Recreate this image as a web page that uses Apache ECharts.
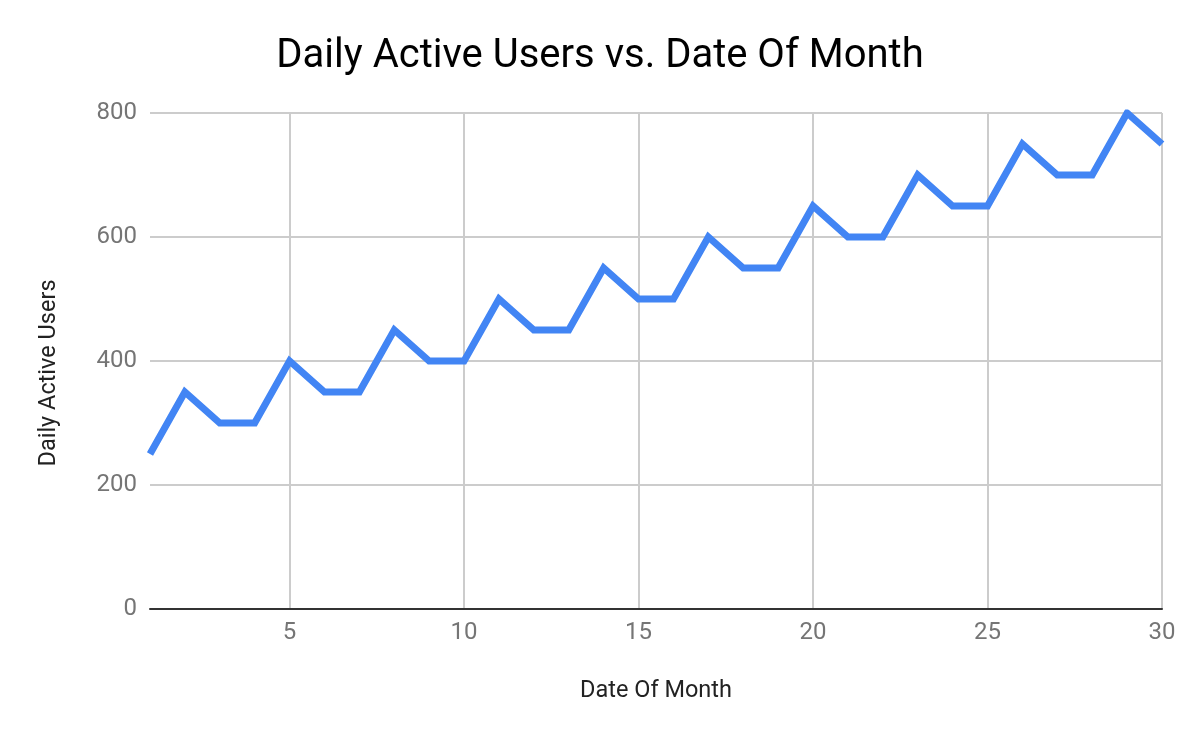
<!DOCTYPE html>
<html>
<head>
<meta charset="utf-8">
<script src="https://cdn.jsdelivr.net/npm/echarts@6/dist/echarts.min.js"></script>
<style>html,body{margin:0;padding:0;background:#fff}#c{width:1200px;height:742px}</style>
</head>
<body>
<div id="c"></div>
<script>
const days = [1,2,3,4,5,6,7,8,9,10,11,12,13,14,15,16,17,18,19,20,21,22,23,24,25,26,27,28,29,30];
const users = [250,350,300,300,400,350,350,450,400,400,500,450,450,550,500,500,600,550,550,650,600,600,700,650,650,750,700,700,800,750];
const xTicks = [5,10,15,20,25,30];
const yTicks = [0,200,400,600,800];

const chart = echarts.init(document.getElementById('c'));
chart.setOption({
  animation: false,
  title: {
    text: 'Daily Active Users vs. Date Of Month',
    left: 'center', top: 32,
    textStyle: { fontFamily: 'Roboto', fontSize: 40, fontWeight: 'normal', color: '#000' }
  },
  grid: { left: 150, right: 38, top: 113, bottom: 133 },
  xAxis: {
    type: 'value', min: 1, max: 30,
    name: 'Date Of Month', nameLocation: 'middle', nameGap: 70,
    nameTextStyle: { fontFamily: 'Roboto', fontSize: 23.5, color: '#222' },
    axisLine: { show: true, onZero: false, lineStyle: { color: '#333', width: 2 } },
    axisTick: { show: false, customValues: xTicks },
    axisLabel: { customValues: xTicks, margin: 12, fontFamily: 'Roboto', fontSize: 24, color: '#757575' },
    splitLine: { show: true, lineStyle: { color: '#cccccc', width: 2 } }
  },
  yAxis: {
    type: 'value', min: 0, max: 800, interval: 200,
    name: 'Daily Active Users', nameLocation: 'middle', nameGap: 89,
    nameTextStyle: { fontFamily: 'Roboto', fontSize: 23.5, color: '#222', padding: [0, 24, 0, 0] },
    axisLine: { show: false },
    axisTick: { show: false },
    axisLabel: { margin: 13, fontFamily: 'Roboto', fontSize: 24, color: '#757575' },
    splitLine: { show: true, lineStyle: { color: '#cccccc', width: 2 } }
  },
  series: [{
    type: 'line',
    data: days.map((d, i) => [d, users[i]]),
    showSymbol: false,
    symbol: 'none',
    lineStyle: { color: '#4285F4', width: 7, join: 'miter' },
    itemStyle: { color: '#4285F4' },
    z: 3
  }]
});
</script>
</body>
</html>
